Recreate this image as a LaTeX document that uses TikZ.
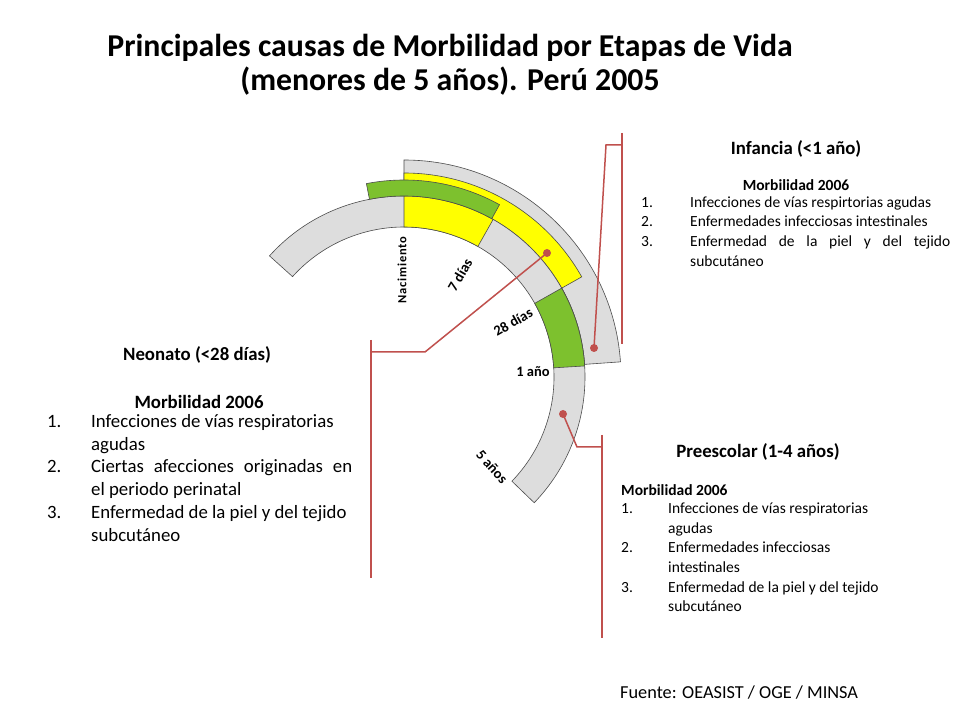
\documentclass[tikz,border=0pt]{standalone}
\usepackage{fontspec}
\setmainfont{Carlito}
\usetikzlibrary{calc}
\definecolor{bandgray}{HTML}{DDDDDD}
\definecolor{bandyel}{HTML}{FFFF00}
\definecolor{bandgreen}{HTML}{7DC12E}
\definecolor{redl}{HTML}{C0504D}
\tikzset{
 bandline/.style={draw=black!70, line width=0.6pt},
 redline/.style={draw=redl, line width=1.5pt},
 dotmark/.style={circle, fill=redl, inner sep=0pt, minimum size=8pt},
 titletext/.style={font=\fontsize{31.8}{34}\selectfont\bfseries, align=center},
 headtext/.style={font=\fontsize{18.8}{21}\selectfont\bfseries},
 tick/.style={font=\fontsize{14.5}{16}\selectfont\bfseries, inner sep=0pt},
}
\newcommand{\bandshape}[5]{% style, a1, a2, r1, r2
 \path[#1] ($(C)+(#2:#4)$) arc[start angle=#2, end angle=#3, radius=#4]
   -- ($(C)+(#3:#5)$) arc[start angle=#3, end angle=#2, radius=#5] -- cycle;}
\begin{document}
\begin{tikzpicture}[x=1pt,y=1pt]
\useasboundingbox[fill=white] (0,0) rectangle (960,720);
\coordinate (C) at (404,343);
% outer band
\bandshape{bandline,fill=bandgray}{4}{90}{181}{217}
\bandshape{bandline,fill=bandyel}{29.4}{90}{181}{204}
% inner band
\bandshape{bandline,fill=bandgray}{-44}{138}{150}{181}
\bandshape{bandline,fill=bandyel}{60.5}{90}{150}{181}
\bandshape{bandline,fill=bandgreen}{3.5}{29.4}{150}{181}
% upper green band
\bandshape{bandline,fill=bandgreen}{61}{101}{181}{197}
% tick labels
\node[tick, font=\fontsize{12.5}{14}\selectfont\bfseries, rotate=90] (nac) at (402,450) {N\kern0.8pt a\kern0.8pt c\kern0.8pt i\kern0.8pt m\kern0.8pt i\kern0.8pt e\kern0.8pt n\kern0.8pt t\kern0.8pt o};
\node[tick, rotate=60] (d7) at (460,445) {7 días};
\node[tick, rotate=30] (d28) at (513,398) {28 días};
\node[tick] (a1) at (533,348) {1 año};
\node[tick, rotate=-48] (a5) at (492,253) {5 años};
% title
\node[titletext] (title) at (450,655) {Principales causas de Morbilidad por Etapas de Vida\\(menores de 5 años). Perú 2005};
% Infancia
\node[headtext] (inf) at (796,571) {Infancia (<1 año)};
\node[font=\fontsize{15.5}{17}\selectfont\bfseries] (infm) at (796,535) {Morbilidad 2006};
\begin{scope}[every node/.style={font=\fontsize{15.5}{19.5}\selectfont, inner sep=0pt}]
\node[anchor=base west] (in1) at (641,512) {1.};
\node[anchor=base west] (it1) at (690,512) {Infecciones de vías respirtorias agudas};
\node[anchor=base west] (in2) at (641,493) {2.};
\node[anchor=base west] (it2) at (690,493) {Enfermedades infecciosas intestinales};
\node[anchor=base west] (in3) at (641,473) {3.};
\node[anchor=base west] (it3) at (690,473) {\parbox[t]{260pt}{Enfermedad de la piel y del tejido\linebreak subcutáneo}};
\end{scope}
% Neonato
\node[headtext] (neo) at (197,365) {Neonato (<28 días)};
\node[font=\fontsize{18.8}{21}\selectfont\bfseries] (neom) at (199,318) {Morbilidad 2006};
\begin{scope}[every node/.style={font=\fontsize{18.8}{22.6}\selectfont, inner sep=0pt}]
\node[anchor=base west] (nn1) at (47,292) {1.};
\node[anchor=base west] (nt1) at (91,292) {\parbox[t]{261pt}{Infecciones de vías respiratorias\\agudas}};
\node[anchor=base west] (nn2) at (47,247) {2.};
\node[anchor=base west] (nt2) at (91,247) {\parbox[t]{261pt}{Ciertas afecciones originadas en\linebreak el periodo perinatal}};
\node[anchor=base west] (nn3) at (47,201) {3.};
\node[anchor=base west] (nt3) at (91,201) {\parbox[t]{261pt}{Enfermedad de la piel y del tejido\\subcutáneo}};
\end{scope}
% Preescolar
\node[headtext] (pre) at (758,268) {Preescolar (1-4 años)};
\node[font=\fontsize{15.5}{17}\selectfont\bfseries, anchor=base west, inner sep=0pt] (prem) at (621,224) {Morbilidad 2006};
\begin{scope}[every node/.style={font=\fontsize{15.5}{19.5}\selectfont, inner sep=0pt}]
\node[anchor=base west] (pn1) at (621,206) {1.};
\node[anchor=base west] (pt1) at (668,206) {\parbox[t]{240pt}{Infecciones de vías respiratorias\\agudas}};
\node[anchor=base west] (pn2) at (621,167) {2.};
\node[anchor=base west] (pt2) at (668,167) {\parbox[t]{240pt}{Enfermedades infecciosas\\intestinales}};
\node[anchor=base west] (pn3) at (621,128) {3.};
\node[anchor=base west] (pt3) at (668,128) {\parbox[t]{240pt}{Enfermedad de la piel y del tejido\\subcutáneo}};
\end{scope}
\node[font=\fontsize{18.3}{20}\selectfont, anchor=base west, inner sep=0pt] (src) at (620,22) {Fuente: OEASIST / OGE / MINSA};
% connectors
\node[dotmark] (dinf) at (594,372) {};
\coordinate (i1) at (622,587); \coordinate (i2) at (622,376);
\coordinate (ih) at (622,575); \coordinate (ik) at (606,575);
\draw[redline] (i1) -- (i2);
\draw[redline] (ih) -- (ik) -- (dinf.center);
\node[dotmark] (dneo) at (547,467) {};
\coordinate (n1) at (371,380); \coordinate (n2) at (371,142);
\coordinate (nh) at (371,368); \coordinate (nk) at (425,368);
\draw[redline] (n1) -- (n2);
\draw[redline] (nh) -- (nk) -- (dneo.center);
\node[dotmark] (dpre) at (563,306) {};
\coordinate (p1) at (602,285); \coordinate (p2) at (602,82);
\coordinate (ph) at (602,273); \coordinate (pk) at (577,273);
\draw[redline] (p1) -- (p2);
\draw[redline] (ph) -- (pk) -- (dpre.center);
\end{tikzpicture}
\end{document}
